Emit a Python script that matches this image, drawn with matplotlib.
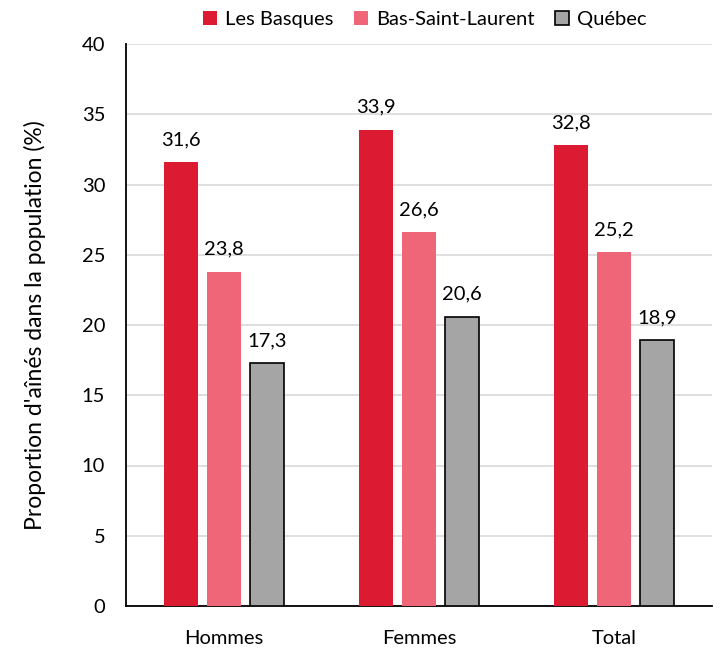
import matplotlib.pyplot as plt
import numpy as np

plt.rcParams['font.family'] = ['Lato', 'DejaVu Sans']

categories = ['Hommes', 'Femmes', 'Total']
series = ['Les Basques', 'Bas-Saint-Laurent', 'Québec']
les_basques = [31.6, 33.9, 32.8]
bas_st_laurent = [23.8, 26.6, 25.2]
quebec = [17.3, 20.6, 18.9]

colors = ['#dc1a32', '#ee6677', '#a5a5a5']
edges = ['none', 'none', 'black']

fig = plt.figure(figsize=(7.2, 6.5), dpi=100)
ax = fig.add_axes([126/720, 44/650, 586/720, 562/650])

x = np.arange(len(categories))
w = 0.174
step = 0.22
for i, (vals, c, e) in enumerate(zip([les_basques, bas_st_laurent, quebec], colors, edges)):
    pos = x + (i - 1) * step
    bars = ax.bar(pos, vals, width=w, color=c, edgecolor=e, linewidth=1.2 if e != 'none' else 0,
                  label=series[i], zorder=3)
    for b, v in zip(bars, vals):
        ax.annotate(f'{v:.1f}'.replace('.', ','), (b.get_x() + b.get_width()/2, v),
                    xytext=(0, 10), textcoords='offset points', ha='center', va='bottom',
                    fontsize=14.5)

ax.set_xlim(-0.5, 2.5)
ax.set_ylim(0, 40)
ax.set_yticks(range(0, 41, 5))
ax.set_xticks(x)
ax.set_xticklabels(categories, fontsize=14.5)
ax.tick_params(axis='y', labelsize=14.5, length=0, pad=15)
ax.tick_params(axis='x', length=0, pad=17)
ax.grid(axis='y', color='#d9d9d9', linewidth=1.2, zorder=0)
for s in ['top', 'right']:
    ax.spines[s].set_visible(False)
ax.spines['left'].set_linewidth(1.3)
ax.spines['bottom'].set_linewidth(1.3)
ax.set_ylabel("Proportion d'aînés dans la population (%)", fontsize=16.5, labelpad=26)

ax.legend(loc='lower center', bbox_to_anchor=(0.51, 1.0), ncol=3, frameon=False,
          fontsize=14.5, handlelength=0.7, handleheight=0.7, handletextpad=0.4,
          columnspacing=1.0, borderaxespad=0.4)

fig.savefig('out.png', dpi=100)
